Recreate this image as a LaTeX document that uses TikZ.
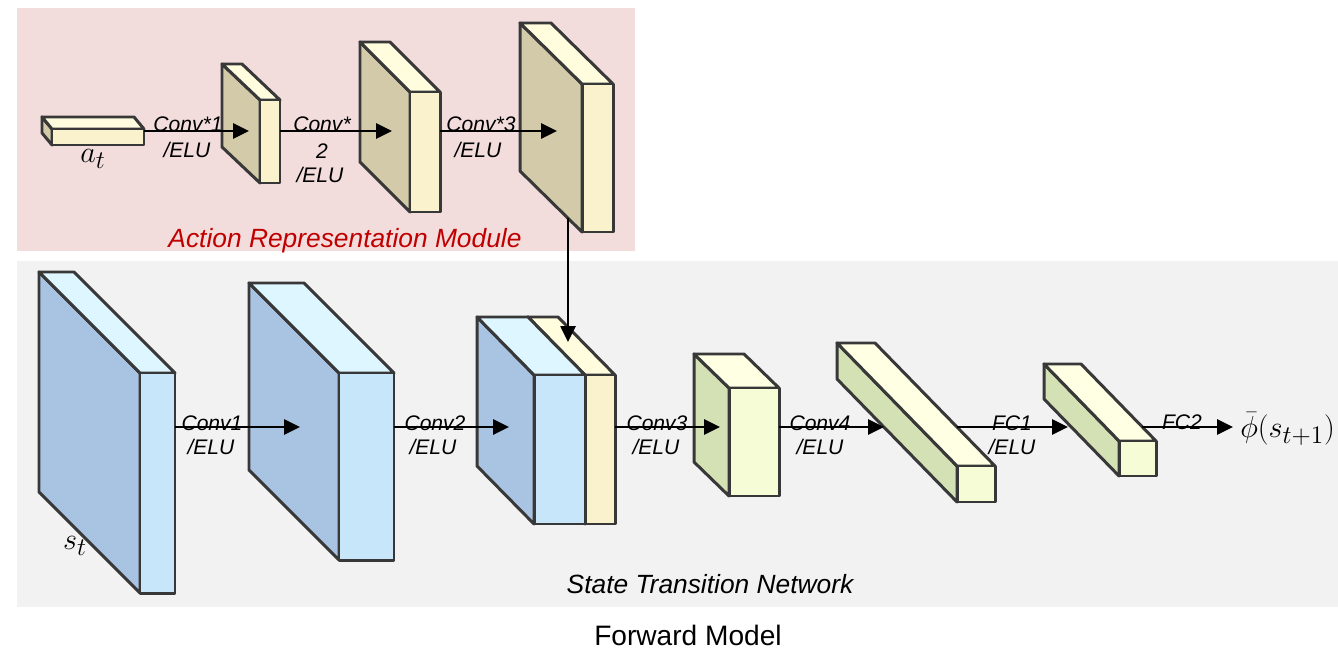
\documentclass[tikz,border=0pt]{standalone}
\usepackage{fontspec}
\setmainfont{Liberation Sans}
\usetikzlibrary{arrows.meta}

\definecolor{tanside}{HTML}{D2CAA8}
\definecolor{tanfront}{HTML}{FAF2CC}
\definecolor{tantop}{HTML}{FFFDDE}
\definecolor{blueside}{HTML}{A9C4E2}
\definecolor{bluefront}{HTML}{C8E6FA}
\definecolor{bluetop}{HTML}{DEF6FF}
\definecolor{greenside}{HTML}{D3E1B4}
\definecolor{greenfront}{HTML}{F6FCD6}
\definecolor{greentop}{HTML}{FFFFE4}
\definecolor{actionbg}{HTML}{F2DCDC}
\definecolor{statebg}{HTML}{F2F2F2}
\definecolor{edge}{HTML}{383838}
\definecolor{modred}{HTML}{C00000}

\tikzset{
  box/.style={draw=edge, line width=1.7pt, line join=round},
  flow/.style={line width=1.5pt, -{Triangle[length=0.32cm,width=0.3cm]}},
  lbl/.style={font=\fontsize{12}{14}\selectfont\itshape, inner sep=0pt, anchor=base},
  sym/.style={font=\fontsize{19}{22}\selectfont, inner sep=0pt},
  title/.style={font=\fontsize{15}{18}\selectfont\itshape, inner sep=0pt, anchor=base}
}

% #1 name, (#2,#3) top left of the front face, #4 width, #5 height,
% (#6,#7) depth towards the upper left, #8 colour set
\newcommand{\cuboid}[8]{%
  \filldraw[box, fill=#8side] (#2,#3) -- (#2-#6,#3-#7) -- (#2-#6,#3+#5-#7) -- (#2,#3+#5) -- cycle;
  \filldraw[box, fill=#8top] (#2,#3) -- (#2-#6,#3-#7) -- (#2+#4-#6,#3-#7) -- (#2+#4,#3) -- cycle;
  \node[box, fill=#8front, anchor=north west, inner sep=0pt, outer sep=0pt,
        minimum width=#4*0.02cm, minimum height=#5*0.02cm] (#1) at (#2,#3) {};
}

\begin{document}
\begin{tikzpicture}[x=0.02cm, y=-0.02cm]
  \useasboundingbox (0,0) rectangle (1338,652);
  \fill[actionbg] (17,8) rectangle (635,251);
  \fill[statebg] (17,261) rectangle (1338,607);

  \coordinate (arow) at (0,131);
  \coordinate (srow) at (0,427);

  % action representation module
  \cuboid{act0}{52}{129}{92}{16}{10}{12}{tan}
  \cuboid{act1}{260}{100}{20}{83}{38}{36}{tan}
  \cuboid{act2}{410}{92}{30}{120}{50}{50}{tan}
  \cuboid{act3}{582}{84}{31}{148}{62}{61}{tan}
  \node[sym] (at) at (93,159) {$a_t$};

  \coordinate (act1in) at (249,131);
  \coordinate (act2in) at (392,131);
  \coordinate (act3in) at (557,131);
  \draw[flow] (act0.east |- arow) -- (act1in);
  \draw[flow] (act1.east |- arow) -- (act2in);
  \draw[flow] (act2.east |- arow) -- (act3in);
  \node[lbl] (ac1) at (188,132) {Conv*1};
  \node[lbl] (ae1) at (187,157) {/ELU};
  \node[lbl] (ac2) at (322,132) {Conv*};
  \node[lbl] (an2) at (322,158) {2};
  \node[lbl] (ae2) at (320,182) {/ELU};
  \node[lbl] (ac3) at (481,132) {Conv*3};
  \node[lbl] (ae3) at (478,157) {/ELU};
  \node[title, text=modred] (amod) at (345,247) {Action Representation Module};

  % state transition network
  \cuboid{st1}{140}{373}{35}{220}{101}{101}{blue}
  \cuboid{st2}{339}{373}{55}{187}{90}{90}{blue}
  \cuboid{st3y}{585}{375}{30}{149}{57}{58}{tan}
  \cuboid{st3}{534}{375}{51}{149}{57}{58}{blue}
  \cuboid{st4}{729}{388}{50}{108}{35}{34}{green}
  \cuboid{st5}{957}{466}{38}{36}{120}{123}{green}
  \cuboid{st6}{1119}{441}{37}{35}{75}{77}{green}
  \node[sym] (st) at (75,546) {$s_t$};

  \coordinate (act3out) at (568,218);
  \coordinate (st3in) at (568,342);
  \draw[flow] (act3out) -- (st3in);

  \coordinate (st2in) at (300,427);
  \coordinate (st3bin) at (509,427);
  \coordinate (st4in) at (720,427);
  \coordinate (st5in) at (884,427);
  \coordinate (st6in) at (1068,427);
  \coordinate (st5out) at (957,427);
  \coordinate (st6out) at (1142,427);
  \node[sym, anchor=west] (out) at (1240,429) {$\bar{\phi}(s_{t+1})$};

  \draw[flow] (st1.east |- srow) -- (st2in);
  \draw[flow] (st2.east |- srow) -- (st3bin);
  \draw[flow] (st3y.east |- srow) -- (st4in);
  \draw[flow] (st4.east |- srow) -- (st5in);
  \draw[flow] (st5out) -- (st6in);
  \draw[flow, shorten >=0.14cm] (st6out) -- (out.west |- srow);

  \node[lbl] (sc1) at (212,430) {Conv1};
  \node[lbl] (se1) at (211,454) {/ELU};
  \node[lbl] (sc2) at (435,430) {Conv2};
  \node[lbl] (se2) at (433,454) {/ELU};
  \node[lbl] (sc3) at (657,430) {Conv3};
  \node[lbl] (se3) at (656,454) {/ELU};
  \node[lbl] (sc4) at (820,430) {Conv4};
  \node[lbl] (se4) at (820,454) {/ELU};
  \node[lbl] (sf1) at (1012,430) {FC1};
  \node[lbl] (sfe1) at (1012,454) {/ELU};
  \node[lbl] (sf2) at (1182,429) {FC2};
  \node[title] (smod) at (710,593) {State Transition Network};

  \node[font=\fontsize{16}{19}\selectfont, inner sep=0pt, anchor=base] (fwd) at (688,645) {Forward Model};
\end{tikzpicture}
\end{document}
